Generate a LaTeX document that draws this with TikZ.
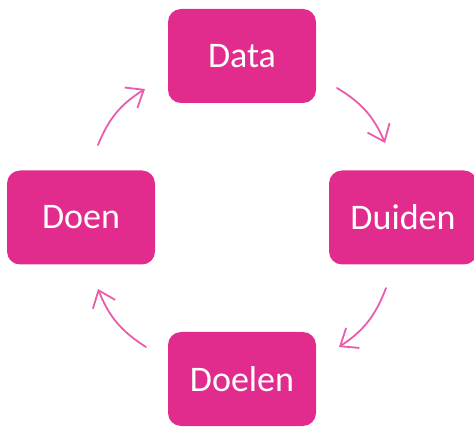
\documentclass[tikz,border=0pt]{standalone}
\usepackage{fontspec}
\setmainfont{Carlito}
\usetikzlibrary{arrows.meta}
\definecolor{boxmag}{HTML}{E22C8D}
\definecolor{arrpink}{HTML}{E85CAB}
\tikzset{
  stepbox/.style={fill=boxmag, draw=none, rounded corners=13pt, minimum width=148pt, minimum height=94pt, text=white, font=\fontsize{36}{42}\selectfont, inner sep=0pt},
  cyc/.style={draw=arrpink, line width=1.8pt, line cap=round, -{Straight Barb[length=15pt,width=24pt,line width=1.8pt]}}
}
\begin{document}
\begin{tikzpicture}[x=1pt,y=1pt]
\useasboundingbox (0,0) rectangle (474,426);
\node[stepbox] (data)   at (242,370) {Data};
\node[stepbox] (duiden) at (403,208.5) {Duiden};
\node[stepbox] (doelen) at (242,47) {Doelen};
\node[stepbox] (doen)   at (81,208.5) {Doen};
\coordinate (a1s) at (337,338);
\coordinate (a1e) at (385,283);
\coordinate (a2s) at (386,138);
\coordinate (a2e) at (339,79);
\coordinate (a3s) at (146,79);
\coordinate (a3e) at (98,137);
\coordinate (a4s) at (98,281);
\coordinate (a4e) at (145,337);
\draw[cyc] (a1s) to[bend left=18] (a1e);
\draw[cyc] (a2s) to[bend left=18] (a2e);
\draw[cyc] (a3s) to[bend left=18] (a3e);
\draw[cyc] (a4s) to[bend left=18] (a4e);
\end{tikzpicture}
\end{document}
